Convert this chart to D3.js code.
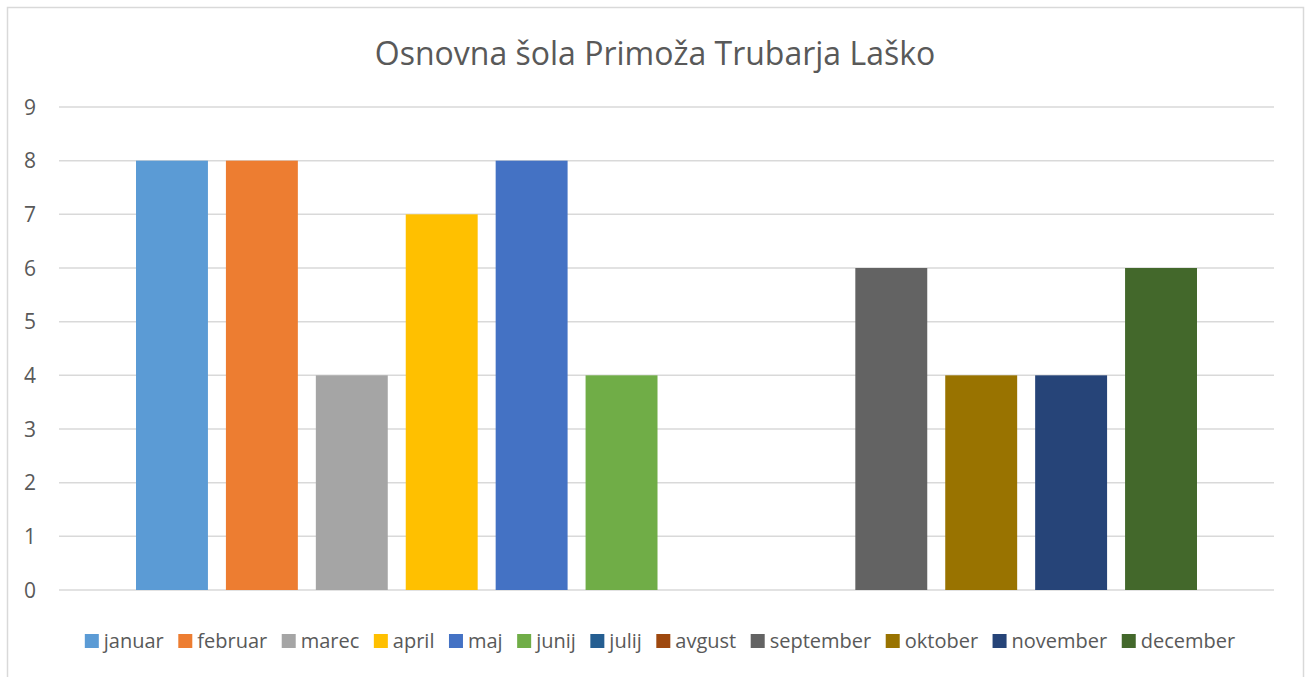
<!DOCTYPE html>
<html lang="en">
<head>
<meta charset="UTF-8">
<script src="https://d3js.org/d3.v7.min.js"></script>
<style>
  html, body { margin: 0; padding: 0; background: #fff; overflow: hidden; }
  text { font-family: "Open Sans", Lato, sans-serif; fill: #595959; }
</style>
</head>
<body>
<script>
// data
const months = ["januar", "februar", "marec", "april", "maj", "junij", "julij", "avgust", "september", "oktober", "november", "december"];
const values = [8, 8, 4, 7, 8, 4, 0, 0, 6, 4, 4, 6];
const colors = ["#5B9BD5", "#ED7D31", "#A5A5A5", "#FFC000", "#4472C4", "#70AD47", "#255E91", "#9E480E", "#636363", "#997300", "#264478", "#43682B"];
const yTicks = [0, 1, 2, 3, 4, 5, 6, 7, 8, 9];
const title = "Osnovna šola Primoža Trubarja Laško";

const width = 1309, height = 677;
const svg = d3.select("body").append("svg")
  .attr("width", width)
  .attr("height", height);

// chart border (bottom edge falls outside the picture)
svg.append("rect")
  .attr("x", 7.5).attr("y", 7.5)
  .attr("width", 1296).attr("height", 700)
  .attr("fill", "white")
  .attr("stroke", "#d9d9d9")
  .attr("stroke-width", 1.5);

const plot = { left: 59, right: 1274, top: 107, bottom: 590 };

const y = d3.scaleLinear().domain([0, 9]).range([plot.bottom, plot.top]);
const x = d3.scaleBand().domain(months).range([136, 1197]).paddingInner(0.2).paddingOuter(0);

// gridlines
svg.append("g").selectAll("line")
  .data(yTicks)
  .join("line")
  .attr("x1", plot.left).attr("x2", plot.right)
  .attr("y1", d => y(d)).attr("y2", d => y(d))
  .attr("stroke", "#d9d9d9")
  .attr("stroke-width", 1.5);

// y labels
svg.append("g").selectAll("text")
  .data(yTicks)
  .join("text")
  .attr("x", 30)
  .attr("y", d => y(d))
  .attr("dy", "0.36em")
  .attr("text-anchor", "middle")
  .style("font-size", "21px")
  .text(d => d);

// bars
svg.append("g").selectAll("rect")
  .data(months)
  .join("rect")
  .attr("x", d => x(d))
  .attr("width", x.bandwidth())
  .attr("y", (d, i) => y(values[i]))
  .attr("height", (d, i) => y(0) - y(values[i]))
  .attr("fill", (d, i) => colors[i]);

// title
svg.append("text")
  .attr("x", 655).attr("y", 65)
  .attr("text-anchor", "middle")
  .style("font-size", "32px")
  .text(title);

// legend
const legend = svg.append("g");
const items = legend.selectAll("g")
  .data(months)
  .join("g");
items.append("rect")
  .attr("width", 14).attr("height", 14)
  .attr("y", -7)
  .attr("fill", (d, i) => colors[i]);
items.append("text")
  .attr("x", 19)
  .attr("dy", "0.35em")
  .style("font-size", "20px")
  .text(d => d);

let offset = 0;
items.each(function() {
  const w = this.getBBox().width;
  d3.select(this).attr("transform", `translate(${offset},0)`);
  offset += w + 14.5;
});
const total = offset - 14.5;
legend.attr("transform", `translate(${660 - total / 2},641)`);
</script>
</body>
</html>
